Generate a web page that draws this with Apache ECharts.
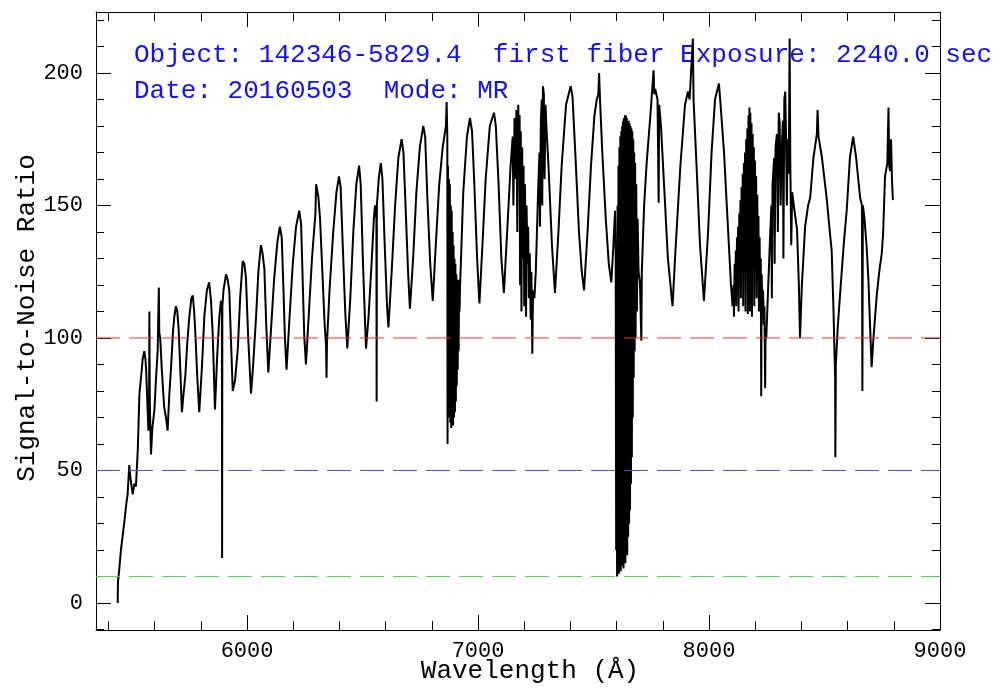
<!DOCTYPE html>
<html>
<head>
<meta charset="utf-8">
<script src="https://cdn.jsdelivr.net/npm/echarts@6/dist/echarts.min.js"></script>
<style>
  html, body { margin: 0; padding: 0; background: #fff; }
  #chart { width: 998px; height: 689px; }
</style>
</head>
<body>
<div id="chart"></div>
<script>
// Signal-to-noise spectrum: [wavelength (Angstrom), S/N]
const spectrum = [
  [5440,0],[5441,8],[5446,12],[5454,20],[5468,30],[5478,38],[5483,41],[5490,52],[5494,48],[5500,44],[5505,41],[5512,45],[5519,44],[5527,58],[5534,79],[5542,86],[5548,92],[5555,95],[5560,92],[5563,88],
  [5570,72],[5573,65],[5576,80],[5577,110],[5579,75],[5584,56],[5590,66],[5599,73],[5606,85],[5613,95],[5618,119],[5620,102],[5624,100],[5631,88],[5641,74],[5649,70],[5656,65],[5663,78],[5671,89],[5679,102],
  [5685,108],[5692,112],[5698,110],[5704,103],[5711,88],[5718,72],[5724,78],[5733,86],[5741,98],[5750,108],[5759,115],[5765,116],[5771,110],[5776,102],[5784,86],[5793,72],[5804,88],[5815,108],[5826,118],[5836,121],
  [5844,114],[5851,102],[5856,88],[5861,73],[5870,92],[5880,108],[5887,114],[5891,112],[5892,17],[5893,112],[5898,118],[5909,124],[5916,122],[5923,118],[5930,100],[5938,80],[5948,84],[5960,96],[5970,115],[5981,129],
  [5988,128],[5995,123],[6005,100],[6017,79],[6025,88],[6039,108],[6049,125],[6060,135],[6067,132],[6075,126],[6083,105],[6092,87],[6105,105],[6117,122],[6131,136],[6142,142],[6150,138],[6157,120],[6164,100],[6171,88],
  [6184,108],[6198,128],[6212,142],[6226,148],[6234,143],[6242,118],[6248,100],[6255,90],[6268,110],[6281,130],[6296,147],[6299,158],[6309,153],[6316,145],[6326,125],[6336,105],[6342,97],[6344,85],[6346,98],[6357,118],
  [6373,140],[6387,155],[6398,161],[6405,157],[6413,138],[6425,110],[6434,96],[6447,115],[6460,140],[6473,158],[6485,165],[6492,158],[6502,128],[6510,108],[6515,96],[6526,108],[6539,128],[6549,145],[6554,150],[6560,145],
  [6561,76],[6562,150],[6570,160],[6579,166],[6586,160],[6596,135],[6606,112],[6612,104],[6626,125],[6641,150],[6655,168],[6669,175],[6677,170],[6687,148],[6697,125],[6705,111],[6719,130],[6733,155],[6748,172],[6763,180],
  [6771,176],[6781,152],[6793,128],[6804,114],[6817,135],[6832,158],[6847,172],[6861,180],[6864,189],[6867,176],
  // O2 B band
  [6868,60],[6870,165],[6872,78],[6874,160],[6876,70],[6878,158],[6880,68],[6882,150],[6884,66],[6886,148],[6888,68],[6890,140],[6892,67],[6894,135],[6896,70],[6898,130],[6900,72],[6902,128],[6904,76],[6906,124],
  [6908,82],[6910,122],[6912,88],[6914,120],[6916,95],[6918,122],[6920,110],[6922,119],
  [6936,155],[6952,176],[6965,183],[6974,178],[6984,158],[6996,130],[7006,113],[7019,135],[7033,160],[7051,180],[7069,185],[7077,180],[7089,158],[7101,130],[7112,117],[7126,140],
  [7141,165],[7150,176],[7153,150],[7158,183],[7162,160],[7166,186],[7170,140],[7174,188],[7177,175],[7180,184],[7182,120],[7185,178],[7188,110],[7191,172],[7194,130],[7197,165],[7200,112],[7203,158],[7206,135],[7208,108],
  [7210,150],[7214,128],[7217,142],[7220,115],[7224,132],[7228,107],[7231,125],[7235,94],[7238,118],[7244,115],[7250,125],
  [7260,155],[7266,170],[7268,142],[7272,182],[7276,190],[7278,150],[7281,195],[7285,192],[7288,160],[7292,188],[7297,178],[7305,165],
  [7320,135],[7333,117],[7348,140],[7362,165],[7381,188],[7401,195],[7409,191],[7421,170],[7437,140],[7449,125],[7459,118],[7474,140],[7489,165],[7504,184],[7514,190],[7521,192],[7524,200],[7528,190],[7538,170],[7553,145],
  [7566,128],[7577,121],[7586,135],[7593,148],[7596,130],
  // O2 A band
  [7598,20],[7600,120],[7602,10],[7604,150],[7606,12],[7608,165],[7610,11],[7612,172],[7614,15],[7616,176],[7618,12],[7620,178],[7622,18],[7624,180],[7626,14],[7628,182],[7630,13],[7632,183],[7634,20],[7636,184],
  [7638,15],[7640,184],[7642,22],[7644,183],[7646,18],[7648,182],[7650,25],[7652,182],[7654,30],[7656,181],[7658,35],[7660,180],[7662,45],[7664,179],[7666,55],[7668,178],[7670,70],[7672,175],[7674,85],[7676,170],
  [7678,95],[7680,166],[7682,100],[7685,158],[7688,110],[7691,145],[7695,125],
  [7701,121],[7707,99],[7709,125],[7719,150],[7730,166],[7747,185],[7760,201],[7763,192],[7767,194],[7777,190],[7782,151],[7784,188],[7792,180],[7807,155],[7822,130],[7842,112],[7856,135],
  [7876,165],[7896,188],[7909,193],[7916,190],[7930,213],[7933,190],[7946,165],[7961,135],[7978,114],[7996,140],[8011,170],[8026,190],[8043,196],[8050,188],[8065,170],[8080,145],[8095,120],
  [8102,112],[8106,120],[8108,108],[8111,128],[8113,115],[8116,133],[8118,112],[8121,138],[8123,120],[8126,142],[8128,110],[8131,147],[8133,125],[8136,152],[8138,115],[8141,157],[8143,130],[8146,162],[8148,112],[8151,166],
  [8153,135],[8156,170],[8158,110],[8161,175],[8163,140],[8166,179],[8168,109],[8171,184],[8173,150],[8175,187],[8177,110],[8179,185],[8181,145],[8184,181],[8186,108],[8189,177],[8191,140],[8194,172],[8196,112],[8199,167],
  [8201,135],[8204,161],[8206,115],[8209,154],[8211,125],[8214,146],[8216,110],[8219,138],[8221,120],[8224,130],[8226,78],[8228,124],[8231,112],[8234,118],[8237,105],[8240,112],[8243,81],[8245,104],[8248,100],[8253,112],
  [8263,135],[8270,150],[8272,115],[8275,158],[8282,168],[8284,128],[8288,172],[8294,177],[8298,140],[8302,185],[8306,181],[8310,150],[8315,172],[8320,182],[8322,130],[8326,190],[8330,193],[8333,178],[8337,150],[8340,175],
  [8345,162],[8349,213],[8352,165],[8356,135],[8360,155],
  [8370,148],[8381,141],[8389,120],[8394,100],[8402,120],[8416,142],[8429,150],[8438,153],[8452,168],[8467,177],[8470,186],[8474,176],[8489,168],[8509,153],[8523,140],[8531,133],[8539,110],[8546,85],[8547,55],[8549,90],
  [8558,105],[8567,116],[8583,135],[8596,148],[8610,168],[8624,176],[8637,168],[8654,153],[8662,150],[8664,80],[8666,150],[8672,146],[8682,135],[8690,122],[8697,105],[8704,89],[8712,100],[8726,116],[8737,125],[8748,132],
  [8754,140],[8762,161],[8772,166],[8777,187],[8780,165],[8784,163],[8788,175],[8792,160],[8796,152]
];

// Reference S/N levels and their dash colours
const thresholdLevels = [100, 50, 10];
const thresholdColors = ['#ff2b2b', '#4b4bff', '#3fdc3f'];

// Axis limits and tick positions
const xLimits = [5346, 9000];
const yLimits = [-10.2, 223];
const xMajorTicks = [6000, 7000, 8000, 9000];
const xMinorTicks = [5400, 5600, 5800, 6200, 6400, 6600, 6800, 7200, 7400, 7600, 7800, 8200, 8400, 8600, 8800];
const yMajorTicks = [0, 50, 100, 150, 200];
const yMinorTicks = [-10, 10, 20, 30, 40, 60, 70, 80, 90, 110, 120, 130, 140, 160, 170, 180, 190, 210, 220];

const headerLines = [
  'Object: 142346-5829.4  first fiber Exposure: 2240.0 sec',
  'Date: 20160503  Mode: MR'
];
const xTitle = 'Wavelength (Å)';
const yTitle = 'Signal-to-Noise Ratio';

const FONT = '"Liberation Mono", "DejaVu Sans Mono", monospace';

// One framing axis: ticks point inward, optional labels and spine
function frameAxis(dim, position, ticks, len, withLabels, withLine) {
  const lim = dim === 'x' ? xLimits : yLimits;
  return {
    type: 'value',
    position: position,
    min: lim[0],
    max: lim[1],
    axisLine: { show: withLine, onZero: false, lineStyle: { color: '#000', width: 1 } },
    axisTick: { show: true, inside: true, length: len, customValues: ticks, lineStyle: { color: '#000', width: 1 } },
    axisLabel: {
      show: withLabels,
      customValues: ticks,
      formatter: (v) => String(v),
      margin: dim === 'x' ? 10 : 13,
      color: '#000',
      fontFamily: FONT,
      fontSize: 22
    },
    splitLine: { show: false },
    minorTick: { show: false }
  };
}

const chart = echarts.init(document.getElementById('chart'), null, { renderer: 'canvas' });

const series = [{
  type: 'line',
  data: spectrum,
  showSymbol: false,
  symbol: 'none',
  lineStyle: { color: '#000', width: 2 },
  z: 2,
  clip: true,
  animation: false
}];
thresholdLevels.forEach((lvl, i) => {
  series.push({
    type: 'line',
    data: [[xLimits[0], lvl], [xLimits[1], lvl]],
    showSymbol: false,
    symbol: 'none',
    lineStyle: { color: thresholdColors[i], width: 1, type: [24, 9] },
    z: 3,
    animation: false
  });
});

chart.setOption({
  animation: false,
  backgroundColor: '#fff',
  grid: { left: 96, right: 58, top: 12, bottom: 59, containLabel: false },
  xAxis: [
    frameAxis('x', 'bottom', xMajorTicks, 15, true, true),
    frameAxis('x', 'bottom', xMinorTicks, 9, false, false),
    frameAxis('x', 'top', xMajorTicks, 15, false, true),
    frameAxis('x', 'top', xMinorTicks, 9, false, false)
  ],
  yAxis: [
    frameAxis('y', 'left', yMajorTicks, 15, true, true),
    frameAxis('y', 'left', yMinorTicks, 8, false, false),
    frameAxis('y', 'right', yMajorTicks, 15, false, true),
    frameAxis('y', 'right', yMinorTicks, 8, false, false)
  ],
  series: series,
  graphic: [
    {
      type: 'text', left: 134, top: 42, silent: true,
      style: { text: headerLines[0], font: '26px ' + FONT, fill: '#1010ff' }
    },
    {
      type: 'text', left: 134, top: 78, silent: true,
      style: { text: headerLines[1], font: '26px ' + FONT, fill: '#1010ff' }
    },
    {
      type: 'text', x: 530, y: 671, silent: true,
      style: { text: xTitle, font: '26px ' + FONT, fill: '#000', align: 'center', verticalAlign: 'middle' }
    },
    {
      type: 'text', x: 27, y: 318, rotation: Math.PI / 2, silent: true,
      style: { text: yTitle, font: '26px ' + FONT, fill: '#000', align: 'center', verticalAlign: 'middle' }
    }
  ]
});
</script>
</body>
</html>
